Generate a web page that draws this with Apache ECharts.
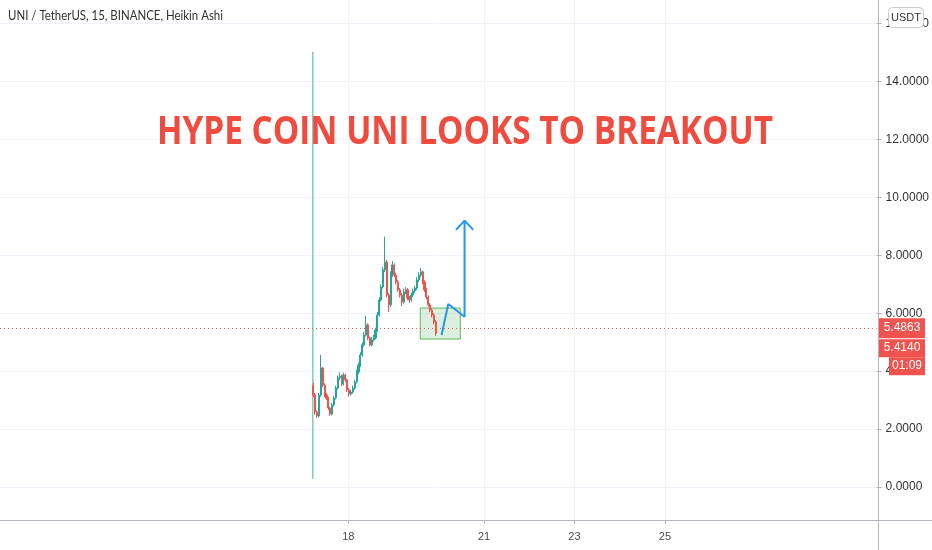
<!DOCTYPE html>
<html><head><meta charset="utf-8">
<script src="https://cdn.jsdelivr.net/npm/echarts@6/dist/echarts.min.js"></script>
<style>html,body{margin:0;padding:0;background:#fff}#c{width:932px;height:550px}</style>
</head><body><div id="c"></div>
<script>
// ---- data ----
const startDay = 17.226;          // first candle, day of month
const stepDay = 1 / 24;           // candle spacing (days)
const opens  = [3.50,3.18,2.59,2.45,3.18,4.11,3.52,3.18,3.07,2.73,2.52,2.83,3.07,3.42,3.77,3.83,3.56,3.87,3.70,3.35,3.21,3.28,3.42,3.63,3.97,4.21,4.56,4.91,5.25,5.60,5.15,4.91,5.08,5.15,5.42,5.94,6.46,6.91,7.50,7.77,6.63,6.29,7.32,7.67,7.32,7.08,6.81,6.63,6.39,6.74,6.81,6.53,6.46,6.63,6.77,6.87,7.15,7.32,7.43,7.08,6.81,6.56,6.29,6.11,5.94,5.70];
const closes = [3.18,2.59,2.45,3.18,4.11,3.52,3.18,3.07,2.73,2.52,2.83,3.07,3.42,3.77,3.83,3.56,3.87,3.70,3.35,3.21,3.28,3.42,3.63,3.97,4.21,4.56,4.91,5.25,5.60,5.15,4.91,5.08,5.15,5.42,5.94,6.46,6.91,7.50,7.77,6.63,6.29,7.32,7.67,7.32,7.08,6.81,6.63,6.39,6.74,6.81,6.53,6.46,6.63,6.77,6.87,7.15,7.32,7.43,7.08,6.81,6.56,6.29,6.11,5.94,5.70,5.30];
const lows   = [3.10,2.50,2.38,2.40,3.12,3.45,3.10,3.00,2.66,2.46,2.48,2.78,3.02,3.36,3.70,3.48,3.50,3.62,3.28,3.12,3.15,3.22,3.36,3.58,3.90,4.15,4.50,4.85,5.20,5.08,4.85,4.86,5.02,5.10,5.36,5.88,6.40,6.85,7.42,6.55,6.04,6.22,7.25,7.25,7.00,6.74,6.55,6.25,6.33,6.66,6.45,6.36,6.40,6.56,6.70,6.80,7.08,7.25,7.00,6.73,6.48,6.22,6.04,5.86,5.62,5.22];
const highs  = [3.60,3.25,2.65,3.25,4.56,4.15,3.58,3.25,3.12,2.78,2.90,3.14,3.50,3.85,3.96,3.88,3.95,3.92,3.75,3.42,3.36,3.50,3.70,4.05,4.30,4.65,5.00,5.35,5.91,5.65,5.20,5.18,5.25,5.50,6.05,6.55,7.00,7.60,8.64,7.85,6.70,7.45,7.80,7.72,7.40,7.15,6.88,6.70,6.85,6.90,6.87,6.60,6.72,6.85,6.95,7.25,7.42,7.56,7.48,7.14,6.88,6.62,6.35,6.17,6.00,5.76];
const xTickLabels = [18, 21, 23, 25];
const yTickValues = [0, 2, 4, 6, 8, 10, 12, 14, 16];
const lastPrice = 5.4863;
const secondPrice = 5.4140;
const countdown = '01:09';
const verticalLine = [[17.215, 0.28], [17.215, 15.03]];
const projection = [[20.062, 5.25], [20.210, 6.32], [20.570, 5.88], [20.570, 9.20]];
const arrowHead = [[20.380, 8.88], [20.570, 9.20], [20.762, 8.88]];
const zoneBox = [[19.591, 6.18], [20.475, 5.11]];
const headerText = 'UNI / TetherUS, 15, BINANCE, Heikin Ashi';
const titleText = 'HYPE COIN UNI LOOKS TO BREAKOUT';
const currency = 'USDT';

const candles = closes.map((c, i) => [startDay + i * stepDay, opens[i], c, lows[i], highs[i]]);

const chart = echarts.init(document.getElementById('c'));
const gridColor = '#f0f3fa';
const axisColor = '#b2b5be';
const option = {
  animation: false,
  backgroundColor: '#ffffff',
  grid: { left: 0, right: 54, top: 0, bottom: 30 },
  xAxis: {
    type: 'value', min: 10.30, max: 29.68, position: 'bottom',
    axisLine: { show: false, onZero: false },
    axisTick: { show: true, customValues: xTickLabels, length: 4, lineStyle: { color: axisColor } },
    axisLabel: { customValues: xTickLabels, color: '#4a4a4a', fontSize: 11, margin: 11, fontFamily: 'Liberation Sans' },
    splitLine: { show: true, lineStyle: { color: gridColor } }
  },
  yAxis: {
    type: 'value', position: 'right', min: -1.14, max: 16.82,
    axisLine: { show: false, onZero: false },
    axisTick: { show: true, customValues: yTickValues, length: 5, lineStyle: { color: axisColor } },
    axisLabel: { customValues: yTickValues, formatter: v => v.toFixed(4), color: '#333', fontSize: 12, margin: 9, fontFamily: 'Liberation Sans' },
    splitLine: { show: true, lineStyle: { color: gridColor } }
  },
  series: [
    {
      type: 'line', data: verticalLine, symbol: 'none', silent: true,
      lineStyle: { color: '#7fcbbf', width: 1.5 }, z: 2
    },
    {
      type: 'candlestick', data: candles, encode: { x: 0, y: [1, 2, 3, 4] },
      barWidth: 1.6,
      itemStyle: { color: '#26a69a', color0: '#ef5350', borderColor: '#26a69a', borderColor0: '#ef5350', borderWidth: 1 },
      markLine: {
        silent: true, symbol: 'none',
        lineStyle: { color: '#ef5350', type: [1, 3], width: 1 },
        label: { show: false },
        data: [{ yAxis: lastPrice }]
      },
      markArea: {
        silent: true,
        itemStyle: { color: 'rgba(76,175,80,0.2)', borderColor: '#5cb85c', borderWidth: 1 },
        data: [[{ coord: zoneBox[0] }, { coord: zoneBox[1] }]]
      },
      z: 3
    },
    {
      type: 'line', data: projection, symbol: 'none', silent: true,
      lineStyle: { color: '#2196f3', width: 2 }, z: 4
    },
    {
      type: 'line', data: arrowHead, symbol: 'none', silent: true,
      lineStyle: { color: '#2196f3', width: 2 }, z: 4
    }
  ]
};
chart.setOption(option);

const yLast = chart.convertToPixel({ yAxisIndex: 0 }, lastPrice);
const ySecond = Math.max(chart.convertToPixel({ yAxisIndex: 0 }, secondPrice), yLast + 20);
const red = '#ef5350';
const lblFont = { fontSize: 12, fontFamily: 'Liberation Sans', fill: '#fff' };
chart.setOption({
  graphic: [
    { type: 'line', shape: { x1: 878.5, y1: 0, x2: 878.5, y2: 550 }, style: { stroke: axisColor, lineWidth: 1 }, z: 50 },
    { type: 'line', shape: { x1: 0, y1: 520.5, x2: 932, y2: 520.5 }, style: { stroke: axisColor, lineWidth: 1 }, z: 50 },
    { type: 'text', x: 8, y: 16, scaleX: 0.88, style: { text: headerText, fontSize: 13, fontFamily: 'Lato', fill: '#333', verticalAlign: 'middle' }, z: 50 },
    { type: 'text', x: 465, y: 133, scaleX: 0.855, style: { text: titleText, fontSize: 39, fontWeight: 'bold', fontFamily: 'Open Sans', fill: '#f04b3f', align: 'center', verticalAlign: 'middle' }, z: 50 },
    { type: 'rect', shape: { x: 888.5, y: 7.5, width: 35, height: 20, r: 4 }, style: { fill: '#fff', stroke: '#c9cbd1', lineWidth: 1 }, z: 60 },
    { type: 'text', x: 906, y: 17.5, style: { text: currency, fontSize: 11, fontFamily: 'Liberation Sans', fill: '#333', align: 'center', verticalAlign: 'middle' }, z: 61 },
    { type: 'rect', shape: { x: 879, y: yLast - 10, width: 46, height: 20 }, style: { fill: red }, z: 60 },
    { type: 'text', x: 902, y: yLast, style: Object.assign({ text: lastPrice.toFixed(4), align: 'center', verticalAlign: 'middle' }, lblFont), z: 61 },
    { type: 'rect', shape: { x: 879, y: ySecond - 9, width: 46, height: 18 }, style: { fill: red }, z: 60 },
    { type: 'text', x: 902, y: ySecond, style: Object.assign({ text: secondPrice.toFixed(4), align: 'center', verticalAlign: 'middle' }, lblFont), z: 61 },
    { type: 'rect', shape: { x: 889, y: ySecond + 9, width: 36, height: 18 }, style: { fill: red }, z: 60 },
    { type: 'text', x: 907, y: ySecond + 18, style: Object.assign({ text: countdown, align: 'center', verticalAlign: 'middle' }, lblFont), z: 61 }
  ]
});
</script>
</body></html>
